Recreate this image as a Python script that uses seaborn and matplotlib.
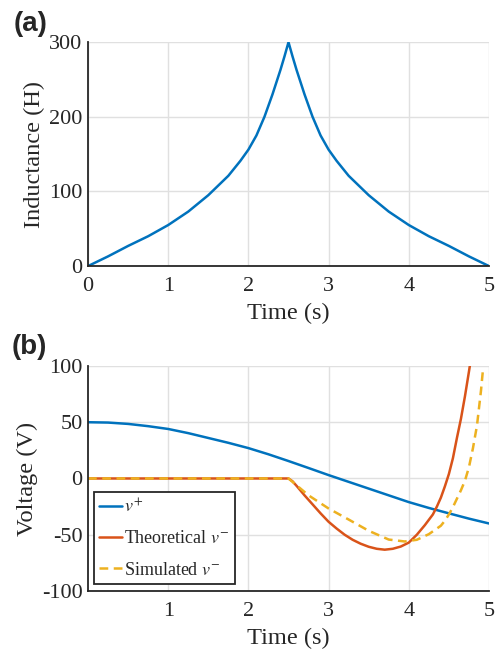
import matplotlib
matplotlib.use("Agg")
import matplotlib.pyplot as plt
import seaborn as sns

# panel (a): inductance vs time
t_L = [0, 0.25, 0.5, 0.75, 1.0, 1.25, 1.5, 1.75, 1.9, 2.0, 2.1, 2.2, 2.3, 2.4, 2.45, 2.5,
       2.55, 2.6, 2.7, 2.8, 2.9, 3.0, 3.1, 3.25, 3.5, 3.75, 4.0, 4.25, 4.5, 4.75, 5.0]
L = [0, 13, 27, 40, 55, 73, 95, 121, 141, 156, 175, 200, 230, 263, 281, 300,
     281, 263, 230, 200, 175, 156, 141, 121, 95, 73, 55, 40, 27, 13, 0]

# panel (b): voltages
t_vp = [0, 0.25, 0.5, 0.75, 1, 1.25, 1.5, 1.75, 2, 2.25, 2.5, 2.75, 3, 3.25, 3.5, 3.75,
        4, 4.25, 4.5, 4.75, 5]
v_plus = [50, 49.7, 48.5, 46.5, 44, 40.3, 36, 31.7, 27, 21.5, 15.5, 9.3, 3, -3, -9, -15,
          -21, -26.2, -31, -35.7, -40]

t_th = [0, 2.5, 2.55, 2.6, 2.7, 2.8, 2.9, 3.0, 3.1, 3.2, 3.3, 3.4, 3.5, 3.6, 3.7, 3.8,
        3.9, 4.0, 4.1, 4.2, 4.3, 4.35, 4.4, 4.45, 4.5, 4.55, 4.6, 4.65, 4.7, 4.75, 4.8]
v_th = [0, 0, -2.5, -6.5, -15, -23, -31, -38.5, -44.5, -50, -54.5, -58, -60.7, -62.5, -63.3, -62.5,
        -60.5, -57, -50, -41.5, -32, -25, -17, -7, 4, 18, 36, 53, 73, 95, 118]

t_sim = [0, 2.5, 2.6, 2.75, 3.0, 3.25, 3.5, 3.75, 3.95, 4.1, 4.25, 4.4, 4.45, 4.5, 4.55,
         4.6, 4.65, 4.7, 4.75, 4.8, 4.85, 4.9, 4.925]
v_sim = [0, 0, -6, -15, -26.7, -36.5, -46.5, -54.3, -56, -54.5, -49.5, -42, -37.5, -32, -25.5,
         -18, -10.5, -2, 10, 27, 47, 78, 97]

labels = [r"$v^{+}$", r"Theoretical $v^{-}$", r"Simulated $v^{-}$"]
colors = ["#0072BD", "#D95319", "#EDB120"]

sns.set_style("white")
plt.rcParams["font.family"] = ["Liberation Serif", "DejaVu Serif"]
plt.rcParams["mathtext.fontset"] = "stix"
plt.rcParams["axes.unicode_minus"] = False

dark = "#262626"
fig = plt.figure(figsize=(5, 6.49), dpi=100)
ax1 = fig.add_axes([0.176, 0.590, 0.802, 0.345])
ax2 = fig.add_axes([0.176, 0.0894, 0.802, 0.3467])


def style(ax):
    ax.grid(True, color="#e0e0e0", linewidth=1.0)
    ax.set_axisbelow(True)
    for s in ["top", "right"]:
        ax.spines[s].set_visible(False)
    for s in ["left", "bottom"]:
        ax.spines[s].set_color(dark)
        ax.spines[s].set_linewidth(1.3)
    ax.tick_params(direction="in", length=3.5, width=1.2, color=dark,
                   labelsize=16, labelcolor=dark)
    ax.tick_params(axis="x", pad=8)
    ax.tick_params(axis="y", pad=4)


sns.lineplot(x=t_L, y=L, ax=ax1, color=colors[0], linewidth=1.8, estimator=None)
ax1.set_xlim(0, 5)
ax1.set_ylim(0, 300)
ax1.set_xticks([0, 1, 2, 3, 4, 5])
ax1.set_yticks([0, 100, 200, 300])
ax1.set_xlabel("Time (s)", fontsize=17.6, color=dark, labelpad=5)
ax1.set_ylabel("Inductance (H)", fontsize=17.6, color=dark, labelpad=3)
style(ax1)

sns.lineplot(x=t_vp, y=v_plus, ax=ax2, color=colors[0], linewidth=1.8,
             estimator=None, label=labels[0])
sns.lineplot(x=t_th, y=v_th, ax=ax2, color=colors[1], linewidth=1.8,
             estimator=None, label=labels[1])
sns.lineplot(x=t_sim, y=v_sim, ax=ax2, color=colors[2], linewidth=1.8,
             linestyle=(0, (3.5, 2.2)), estimator=None, label=labels[2])
ax2.set_xlim(0, 5)
ax2.set_ylim(-100, 100)
ax2.set_xticks([1, 2, 3, 4, 5])
ax2.set_yticks([-100, -50, 0, 50, 100])
ax2.set_xlabel("Time (s)", fontsize=17.6, color=dark, labelpad=5)
ax2.set_ylabel("Voltage (V)", fontsize=17.6, color=dark, labelpad=3)
style(ax2)

leg = ax2.legend(loc="lower left", bbox_to_anchor=(0.015, 0.03), borderaxespad=0,
                 fontsize=13, handlelength=1.25, handletextpad=0.1, labelspacing=0.8,
                 fancybox=False, framealpha=1, borderpad=0.3)
leg.get_frame().set_edgecolor(dark)
leg.get_frame().set_linewidth(1.3)

fig.text(0.062, 0.963, "(a)", family="Liberation Sans", fontweight="bold",
         fontsize=20, ha="center", va="center")
fig.text(0.058, 0.4653, "(b)", family="Liberation Sans", fontweight="bold",
         fontsize=20, ha="center", va="center")

fig.savefig("out.png", dpi=100)
